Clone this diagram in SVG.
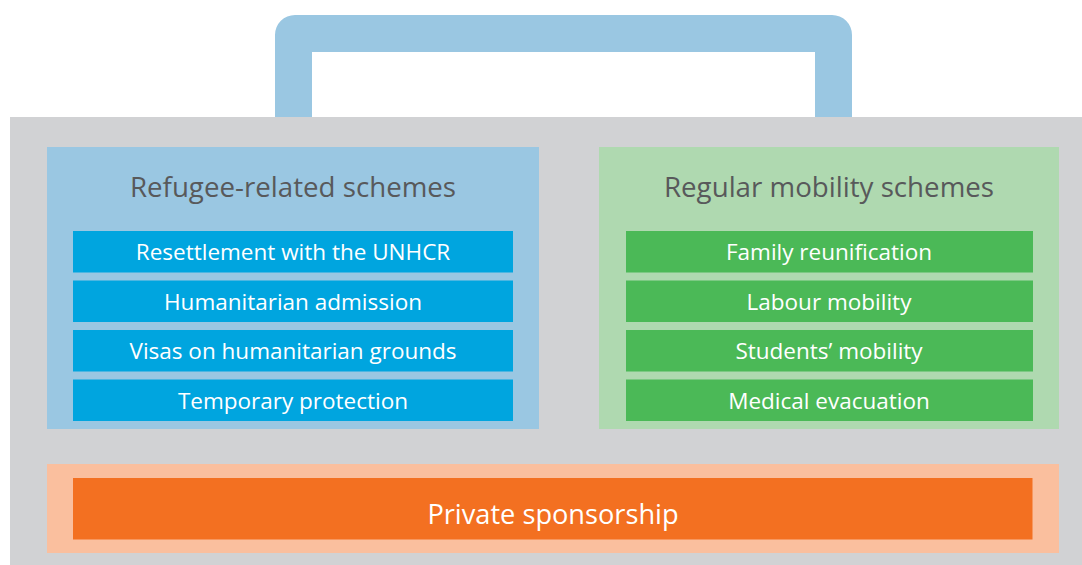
<svg xmlns="http://www.w3.org/2000/svg" width="1082" height="565" viewBox="0 0 1082 565">
<style>
.hdr{font-family:"Open Sans","Noto Sans",sans-serif;font-size:27.7px;fill:#58595B;text-anchor:middle}
.itm{font-family:"Open Sans","Noto Sans",sans-serif;font-size:22.5px;fill:#FFFFFF;text-anchor:middle}
.big{font-family:"Open Sans","Noto Sans",sans-serif;font-size:27.2px;fill:#FFFFFF;text-anchor:middle}
.bItem{fill:#00A5DF}
.gItem{fill:#4BB957}
</style>
<rect width="1082" height="565" fill="#FFFFFF"/>
<g id="handle">
<path d="M275,117 V35 A20,20 0 0 1 295,15 H832 A20,20 0 0 1 852,35 V117 H815 V52 H312 V117 Z" fill="#9AC7E2"/>
</g>
<g id="container">
<rect x="10" y="117" width="1072" height="448" fill="#D1D2D4"/>
</g>
<g id="connectors"></g>
<g id="refugee">
<rect x="47" y="147" width="492" height="282" fill="#9AC7E2"/>
<text class="hdr" x="293" y="197">Refugee-related schemes</text>
</g>
<g id="resettlement">
<rect class="bItem" x="73" y="231" width="440" height="41.5"/>
<text class="itm" x="293" y="260">Resettlement with the UNHCR</text>
</g>
<g id="humanitarian-admission">
<rect class="bItem" x="73" y="280.5" width="440" height="41.5"/>
<text class="itm" x="293" y="309.5">Humanitarian admission</text>
</g>
<g id="visas">
<rect class="bItem" x="73" y="330" width="440" height="41.5"/>
<text class="itm" x="293" y="359">Visas on humanitarian grounds</text>
</g>
<g id="temporary-protection">
<rect class="bItem" x="73" y="379.5" width="440" height="41.5"/>
<text class="itm" x="293" y="408.5">Temporary protection</text>
</g>
<g id="regular">
<rect x="599" y="147" width="460" height="282" fill="#AFD9B0"/>
<text class="hdr" x="829" y="197">Regular mobility schemes</text>
</g>
<g id="family">
<rect class="gItem" x="626" y="231" width="407" height="41.5"/>
<text class="itm" x="829" y="260">Family reunification</text>
</g>
<g id="labour">
<rect class="gItem" x="626" y="280.5" width="407" height="41.5"/>
<text class="itm" x="829" y="309.5">Labour mobility</text>
</g>
<g id="students">
<rect class="gItem" x="626" y="330" width="407" height="41.5"/>
<text class="itm" x="829" y="359">Students’ mobility</text>
</g>
<g id="medical">
<rect class="gItem" x="626" y="379.5" width="407" height="41.5"/>
<text class="itm" x="829" y="408.5">Medical evacuation</text>
</g>
<g id="private">
<rect x="47" y="464" width="1012" height="89" fill="#FABF9E"/>
<rect x="73" y="478" width="959.5" height="61.5" fill="#F37021"/>
<text class="big" x="553" y="524">Private sponsorship</text>
</g>
</svg>
